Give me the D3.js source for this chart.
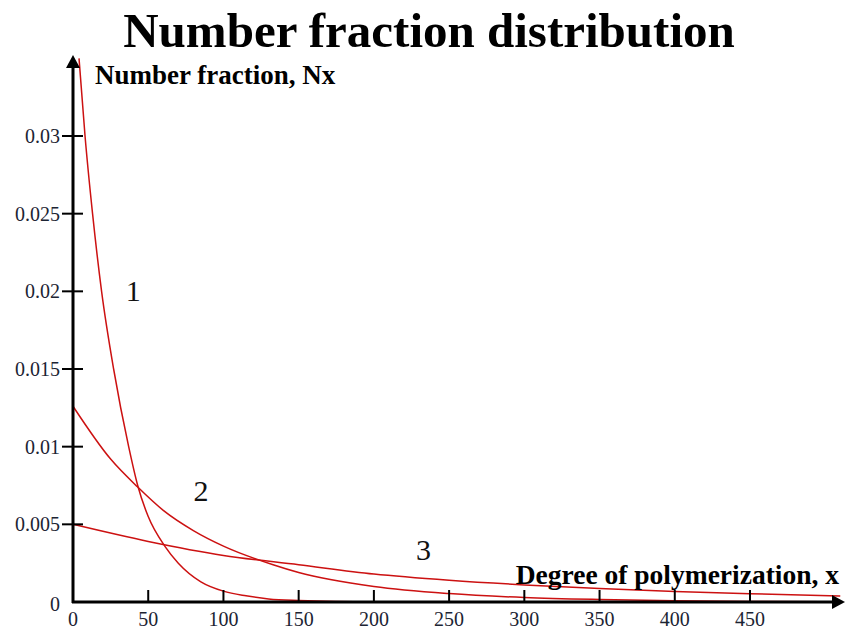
<!DOCTYPE html>
<html>
<head>
<meta charset="utf-8">
<script src="https://d3js.org/d3.v7.min.js"></script>
<style>
  body { margin: 0; background: #fff; }
  svg { display: block; }
</style>
</head>
<body>
<svg></svg>
<script>
//Chart size, same as the window.
var w = 845;
var h = 630;

//Values: degree of polymerization and number fraction.
var x1 = [4, 8, 13, 19, 27, 37, 43, 50, 61, 70, 85, 100, 115, 130, 150, 200, 300, 510];
var n1 = [0.035, 0.030, 0.025, 0.020, 0.015, 0.010, 0.0075, 0.0055, 0.0036, 0.0025, 0.0013, 0.0007, 0.0004, 0.0002, 0.0001, 0.00001, 0, 0];

var x2 = [0, 25, 43, 60, 80, 100, 133, 150, 200, 250, 300, 350, 400, 450, 510];
var n2 = [0.0126, 0.0092, 0.0074, 0.0059, 0.0046, 0.0036, 0.0024, 0.0019, 0.0010, 0.00054, 0.00029, 0.00016, 0.00008, 0.00004, 0.00002];

var x3 = [0, 50, 100, 150, 200, 250, 300, 350, 400, 450, 510];
var n3 = [0.005, 0.0039, 0.0030, 0.0024, 0.0018, 0.0014, 0.0011, 0.00087, 0.00068, 0.00053, 0.00039];

//Tick values for both axes.
var xTicks = [0, 50, 100, 150, 200, 250, 300, 350, 400, 450];
var yTicks = [0, 0.005, 0.01, 0.015, 0.02, 0.025, 0.03];

//Curve labels and where they sit (in data units).
var curveNames = ["1", "2", "3"];
var curveLabelX = [40, 85, 233];
var curveLabelY = [0.0194, 0.0065, 0.0027];

var series = [
  x1.map((x, i) => ({x: x, y: n1[i]})),
  x2.map((x, i) => ({x: x, y: n2[i]})),
  x3.map((x, i) => ({x: x, y: n3[i]}))
];

var serif = "'Liberation Serif', 'Times New Roman', serif";

var svg = d3.select("svg").attr("width", w).attr("height", h);

//Scales: x=0 at the vertical axis, y=0 on the horizontal axis.
var xScale = d3.scaleLinear().domain([0, 450]).range([73, 750]);
var yScale = d3.scaleLinear().domain([0, 0.03]).range([602, 136]);

//Title.
svg.append("text")
  .attr("x", 429).attr("y", 47)
  .attr("text-anchor", "middle")
  .attr("font-family", serif)
  .attr("font-weight", "bold")
  .attr("font-size", 49)
  .attr("fill", "#000")
  .text("Number fraction distribution");

//Curves.
var line = d3.line()
  .x(d => xScale(d.x))
  .y(d => yScale(d.y))
  .curve(d3.curveMonotoneX);

svg.append("g")
  .selectAll("path")
  .data(series)
  .enter().append("path")
    .attr("d", line)
    .attr("fill", "none")
    .attr("stroke", "#cc1111")
    .attr("stroke-width", 1.5);

//Axes, drawn by hand to get the arrow heads and crossing ticks.
var axisColor = "#000";
var x0 = xScale(0);
var y0 = yScale(0);

svg.append("line")
  .attr("x1", x0).attr("x2", x0)
  .attr("y1", y0 + 1).attr("y2", 64)
  .attr("stroke", axisColor).attr("stroke-width", 3);
svg.append("path")
  .attr("d", `M${x0 - 7},68 L${x0},55 L${x0 + 7},68 Z`)
  .attr("fill", axisColor);

svg.append("line")
  .attr("x1", x0 - 1).attr("x2", 836)
  .attr("y1", y0).attr("y2", y0)
  .attr("stroke", axisColor).attr("stroke-width", 3);
svg.append("path")
  .attr("d", `M832,${y0 - 7} L845,${y0} L832,${y0 + 7} Z`)
  .attr("fill", axisColor);

//Y ticks and labels.
var yTickG = svg.append("g")
  .selectAll("g")
  .data(yTicks)
  .enter().append("g");
yTickG.filter(d => d > 0).append("line")
  .attr("x1", x0 - 11).attr("x2", x0 + 10)
  .attr("y1", d => yScale(d)).attr("y2", d => yScale(d))
  .attr("stroke", axisColor).attr("stroke-width", 2);
yTickG.append("text")
  .attr("x", 60)
  .attr("y", d => d > 0 ? yScale(d) : yScale(d) + 2)
  .attr("dy", "0.35em")
  .attr("text-anchor", "end")
  .attr("font-family", serif)
  .attr("font-size", 20)
  .attr("fill", "#1c2433")
  .text(d => d);

//X ticks and labels.
var xTickG = svg.append("g")
  .selectAll("g")
  .data(xTicks)
  .enter().append("g");
xTickG.filter(d => d > 0).append("line")
  .attr("x1", d => xScale(d)).attr("x2", d => xScale(d))
  .attr("y1", y0 - 12).attr("y2", y0)
  .attr("stroke", axisColor).attr("stroke-width", 2);
xTickG.append("text")
  .attr("x", d => xScale(d))
  .attr("y", 626)
  .attr("text-anchor", "middle")
  .attr("font-family", serif)
  .attr("font-size", 20)
  .attr("fill", "#1c2433")
  .text(d => d);

//Axis titles.
svg.append("text")
  .attr("x", 95).attr("y", 84)
  .attr("font-family", serif)
  .attr("font-weight", "bold")
  .attr("font-size", 27)
  .attr("fill", "#000")
  .text("Number fraction, Nx");

svg.append("text")
  .attr("x", 839).attr("y", 584)
  .attr("text-anchor", "end")
  .attr("font-family", serif)
  .attr("font-weight", "bold")
  .attr("font-size", 27.5)
  .attr("fill", "#000")
  .text("Degree of polymerization, x");

//Curve numbers.
svg.append("g")
  .selectAll("text")
  .data(curveNames)
  .enter().append("text")
    .attr("x", (d, i) => xScale(curveLabelX[i]))
    .attr("y", (d, i) => yScale(curveLabelY[i]))
    .attr("text-anchor", "middle")
    .attr("font-family", serif)
    .attr("font-size", 30)
    .attr("fill", "#111")
    .text(d => d);
</script>
</body>
</html>
